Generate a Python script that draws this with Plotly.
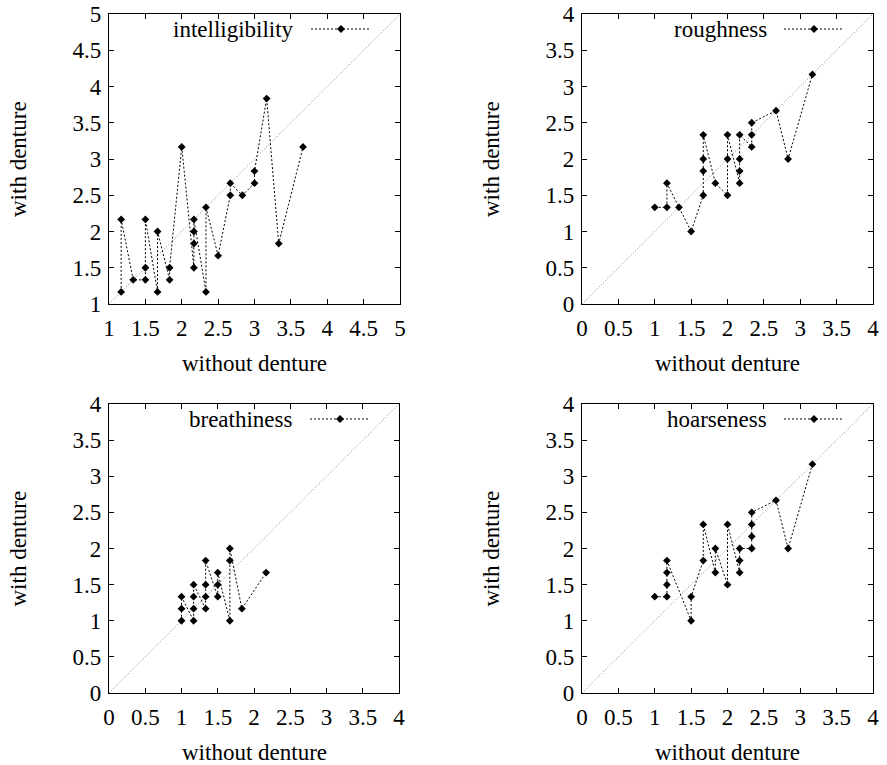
import plotly.graph_objects as go

# ---------------- data ----------------
intel_without = [1.167, 1.167, 1.333, 1.5, 1.5, 1.5, 1.667, 1.667, 1.833, 1.833, 2.0,
                 2.167, 2.167, 2.167, 2.167, 2.333, 2.333, 2.5, 2.667, 2.667, 2.833,
                 3.0, 3.0, 3.167, 3.333, 3.667]
intel_with = [1.167, 2.167, 1.333, 1.333, 1.5, 2.167, 1.167, 2.0, 1.333, 1.5, 3.167,
              1.5, 1.833, 2.0, 2.167, 1.167, 2.333, 1.667, 2.5, 2.667, 2.5,
              2.667, 2.833, 3.833, 1.833, 3.167]

rough_without = [1.0, 1.167, 1.167, 1.333, 1.5, 1.667, 1.667, 1.667, 1.667, 1.833, 2.0,
                 2.0, 2.0, 2.167, 2.167, 2.167, 2.167, 2.333, 2.333, 2.333, 2.667,
                 2.833, 3.167]
rough_with = [1.333, 1.333, 1.667, 1.333, 1.0, 1.5, 1.833, 2.0, 2.333, 1.667, 1.5,
              2.0, 2.333, 1.667, 1.833, 2.0, 2.333, 2.167, 2.333, 2.5, 2.667,
              2.0, 3.167]

breath_without = [1.0, 1.0, 1.0, 1.167, 1.167, 1.167, 1.167, 1.333, 1.333, 1.333, 1.333,
                  1.5, 1.5, 1.5, 1.667, 1.667, 1.667, 1.833, 2.167]
breath_with = [1.0, 1.167, 1.333, 1.0, 1.167, 1.333, 1.5, 1.167, 1.333, 1.5, 1.833,
               1.333, 1.5, 1.667, 1.0, 1.833, 2.0, 1.167, 1.667]

hoarse_without = [1.0, 1.167, 1.167, 1.167, 1.167, 1.5, 1.5, 1.667, 1.667, 1.833, 1.833,
                  2.0, 2.0, 2.167, 2.167, 2.167, 2.333, 2.333, 2.333, 2.333, 2.667,
                  2.833, 3.167]
hoarse_with = [1.333, 1.333, 1.5, 1.667, 1.833, 1.0, 1.333, 1.833, 2.333, 1.667, 2.0,
               1.5, 2.333, 1.667, 1.833, 2.0, 2.0, 2.167, 2.333, 2.5, 2.667,
               2.0, 3.167]

ticks_1_5 = [1, 1.5, 2, 2.5, 3, 3.5, 4, 4.5, 5]
ticks_0_4 = [0, 0.5, 1, 1.5, 2, 2.5, 3, 3.5, 4]
labels_1_5 = ["1", "1.5", "2", "2.5", "3", "3.5", "4", "4.5", "5"]
labels_0_4 = ["0", "0.5", "1", "1.5", "2", "2.5", "3", "3.5", "4"]

names = ["intelligibility", "roughness", "breathiness", "hoarseness"]
xs = [intel_without, rough_without, breath_without, hoarse_without]
ys = [intel_with, rough_with, breath_with, hoarse_with]
tick_sets = [(ticks_1_5, labels_1_5), (ticks_0_4, labels_0_4),
             (ticks_0_4, labels_0_4), (ticks_0_4, labels_0_4)]

x_title = "without denture"
y_title = "with denture"

# ---------------- layout geometry (pixels) ----------------
W, H = 887, 765
boxes = [(109, 400, 14, 304), (582, 873, 14, 304),
         (109, 399, 404, 693), (582, 873, 404, 693)]
FONT = "Liberation Serif, Times New Roman, serif"
FS = 23

fig = go.Figure()
layout = dict(width=W, height=H,
              margin=dict(l=0, r=0, t=0, b=0, pad=0, autoexpand=False),
              paper_bgcolor="white", plot_bgcolor="white", showlegend=False,
              font=dict(family=FONT, size=FS, color="black"))
shapes = []
annotations = []

for i in range(4):
    xl, xr, yt, yb = boxes[i]
    sfx = "" if i == 0 else str(i + 1)
    xa, ya = "x" + sfx, "y" + sfx
    tv, tt = tick_sets[i]
    lo, hi = tv[0], tv[-1]

    fig.add_trace(go.Scatter(
        x=xs[i], y=ys[i], xaxis=xa, yaxis=ya, mode="lines+markers",
        name=names[i], cliponaxis=False,
        line=dict(color="black", width=1, dash="2px,2px"),
        marker=dict(symbol="diamond", size=6, color="black", line=dict(width=0)),
    ))

    axis_common = dict(range=[lo, hi], tickvals=tv, ticktext=tt, ticks="inside",
                       ticklen=5, tickwidth=1, tickcolor="black", showline=True,
                       linecolor="black", linewidth=1.2, mirror="ticks",
                       showgrid=False, zeroline=False, automargin=False,
                       tickfont=dict(family=FONT, size=FS, color="black"))
    layout["xaxis" + sfx] = dict(axis_common, domain=[xl / W, xr / W], anchor=ya,
                                 ticklabelstandoff=3)
    layout["yaxis" + sfx] = dict(axis_common, domain=[1 - yb / H, 1 - yt / H], anchor=xa,
                                 ticklabelstandoff=2)

    # y = x reference line
    shapes.append(dict(type="line", xref=xa, yref=ya, x0=lo, y0=lo, x1=hi, y1=hi,
                       line=dict(color="#808080", width=1, dash="1px,2px"), layer="below"))

    # key (text, then sample line with marker) in the top-right corner
    pw = xr - xl
    ph = yb - yt
    key_y = 1 - 15 / ph
    annotations.append(dict(text=names[i], xref=xa + " domain", yref=ya + " domain",
                            x=(pw - 104) / pw, y=key_y, xanchor="right", yanchor="middle",
                            showarrow=False, font=dict(family=FONT, size=FS, color="black")))
    shapes.append(dict(type="line", xref=xa + " domain", yref=ya + " domain",
                       x0=(pw - 89) / pw, x1=(pw - 29) / pw, y0=key_y, y1=key_y,
                       line=dict(color="black", width=1, dash="2px,2px")))
    shapes.append(dict(type="path", xref=xa + " domain", yref=ya + " domain",
                       xsizemode="pixel", ysizemode="pixel",
                       xanchor=(pw - 59) / pw, yanchor=key_y,
                       path="M 0 4 L 4 0 L 0 -4 L -4 0 Z",
                       fillcolor="black", line=dict(width=0)))

    # axis titles
    annotations.append(dict(text=x_title, xref="paper", yref="paper",
                            x=(xl + xr) / 2 / W, y=1 - (yb + 59) / H,
                            xanchor="center", yanchor="middle", showarrow=False,
                            font=dict(family=FONT, size=FS, color="black")))
    annotations.append(dict(text=y_title, xref="paper", yref="paper",
                            x=(xl - 91) / W, y=1 - (yt + yb) / 2 / H,
                            xanchor="center", yanchor="middle", textangle=-90,
                            showarrow=False,
                            font=dict(family=FONT, size=FS, color="black")))

layout["shapes"] = shapes
layout["annotations"] = annotations
fig.update_layout(**layout)
fig.write_html("out.html", config={"displayModeBar": False},
               post_script="document.body.style.margin='0px';"
                           "document.body.style.overflow='hidden';")
